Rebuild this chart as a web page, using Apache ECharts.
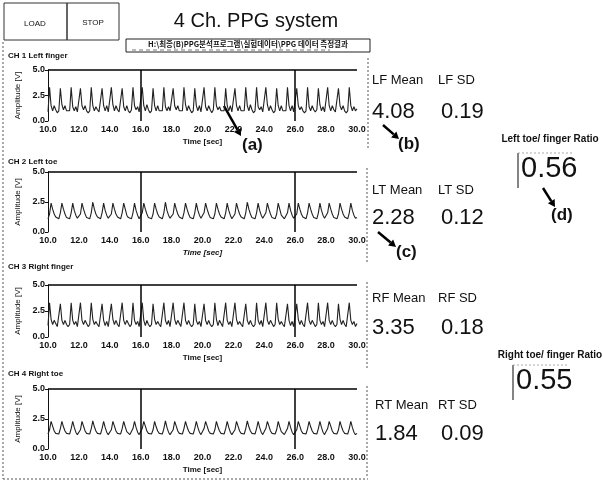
<!DOCTYPE html>
<html>
<head>
<meta charset="utf-8">
<title>4 Ch. PPG system</title>
<script src="https://cdn.jsdelivr.net/npm/echarts@6/dist/echarts.min.js"></script>
<style>
  html, body { margin: 0; padding: 0; background: #fff; }
  #main { width: 603px; height: 482px; }
</style>
</head>
<body>
<div id="main"></div>
<script>
// sampling of the recorded traces (sec)
var startTime = 10.0;
var sampleStep = 0.1;

// CH 1 Left finger (V)
var leftFinger = [
  0.9,3.3,1.5,1.0,1.5,1.1,0.8, 1.0,3.2,1.6,1.1,1.5,1.0,0.9, 1.0,3.3,1.4,1.0,1.4,0.9,
  0.9,3.2,1.5,1.1,1.5,1.0,0.8, 1.0,3.3,1.5,1.0,1.4,1.1,0.9, 1.0,3.2,1.5,1.0,1.5,0.9,
  0.8,3.3,1.6,1.0,1.5,1.1,0.9, 1.0,3.2,1.4,1.0,1.5,1.0,0.8, 1.1,3.3,1.5,1.1,1.4,0.9,
  0.9,3.3,1.5,1.0,1.6,1.1,0.8, 1.0,3.2,1.5,1.0,1.5,1.0,0.9, 1.0,3.3,1.4,1.0,1.4,1.0,
  0.9,3.2,1.5,1.1,1.5,1.0,0.9, 1.0,3.3,1.6,1.0,1.5,1.1,0.8, 1.0,3.2,1.5,1.0,1.5,0.9,
  0.9,3.3,1.4,1.0,1.5,1.1,0.8, 1.1,3.3,1.5,1.1,1.4,1.0,0.9, 1.0,3.2,1.5,1.0,1.5,0.9,
  0.8,3.2,1.5,1.0,1.5,1.0,0.9, 1.0,3.3,1.5,1.0,1.6,1.1,0.8, 1.0,3.3,1.4,1.1,1.4,0.9,
  0.9,3.3,1.6,1.0,1.5,1.1,0.8, 1.0,3.2,1.5,1.0,1.5,1.0,0.9, 1.0,3.3,1.5,1.0,1.5,0.9,
  0.9,3.2,1.5,1.1,1.4,1.0,0.8, 1.0,3.3,1.4,1.0,1.5,1.1,0.9, 1.1,3.2,1.6,1.0,1.4,0.9,
  0.9,3.3,1.5,1.0,1.5,1.1,0.9, 1.0,3.2,1.5,1.1,1.5,1.0,0.8, 1.0,3.3,1.5,1.0,1.4,1.0,
  1.2
];

// CH 2 Left toe (V)
var leftToe = [
  1.1,1.5,2.4,1.9,1.5,1.25,1.1, 1.1,1.6,2.4,1.9,1.5,1.2,1.1, 1.1,1.6,2.4,1.8,1.4,1.15,
  1.1,1.5,2.4,1.9,1.5,1.2,1.1, 1.1,1.6,2.5,1.9,1.5,1.25,1.1, 1.1,1.6,2.4,1.8,1.4,1.15,
  1.1,1.5,2.4,1.9,1.5,1.25,1.1, 1.1,1.6,2.4,1.9,1.4,1.2,1.1, 1.1,1.6,2.4,1.8,1.4,1.1,
  1.1,1.6,2.4,1.9,1.5,1.2,1.1, 1.1,1.5,2.4,1.9,1.5,1.25,1.1, 1.1,1.6,2.5,1.8,1.4,1.15,
  1.1,1.5,2.4,1.9,1.5,1.25,1.1, 1.1,1.6,2.4,1.9,1.5,1.2,1.1, 1.1,1.6,2.4,1.8,1.4,1.15,
  1.1,1.6,2.4,1.9,1.5,1.2,1.1, 1.1,1.5,2.4,1.9,1.5,1.25,1.1, 1.1,1.6,2.4,1.8,1.4,1.1,
  1.1,1.5,2.4,1.9,1.5,1.25,1.1, 1.1,1.6,2.5,1.9,1.5,1.2,1.1, 1.1,1.6,2.4,1.8,1.4,1.15,
  1.1,1.6,2.4,1.9,1.5,1.2,1.1, 1.1,1.5,2.4,1.9,1.4,1.25,1.1, 1.1,1.6,2.4,1.8,1.4,1.15,
  1.1,1.5,2.4,1.9,1.5,1.25,1.1, 1.1,1.6,2.4,1.9,1.5,1.2,1.1, 1.1,1.6,2.4,1.8,1.4,1.15,
  1.1,1.6,2.4,1.9,1.5,1.2,1.1, 1.1,1.5,2.4,1.9,1.5,1.25,1.1, 1.1,1.6,2.4,1.8,1.4,1.15,
  1.2
];

// CH 3 Right finger (V)
var rightFinger = [
  1.1,3.3,1.7,1.2,1.6,1.3,1.0, 1.1,3.2,1.6,1.2,1.6,1.2,1.0, 1.2,3.3,1.6,1.2,1.5,1.0,
  1.1,3.3,1.6,1.2,1.6,1.3,1.0, 1.2,3.3,1.7,1.2,1.5,1.2,1.0, 1.1,3.2,1.6,1.1,1.5,1.0,
  1.1,3.2,1.7,1.2,1.6,1.2,1.0, 1.1,3.3,1.6,1.2,1.6,1.3,1.0, 1.2,3.3,1.6,1.2,1.5,1.0,
  1.1,3.3,1.6,1.1,1.6,1.2,1.0, 1.2,3.2,1.7,1.2,1.5,1.2,1.0, 1.1,3.3,1.6,1.2,1.6,1.0,
  1.1,3.3,1.7,1.2,1.6,1.3,1.0, 1.1,3.3,1.6,1.2,1.6,1.2,1.0, 1.2,3.2,1.6,1.2,1.5,1.0,
  1.1,3.2,1.6,1.2,1.6,1.2,1.0, 1.2,3.3,1.7,1.1,1.6,1.3,1.0, 1.1,3.3,1.6,1.2,1.5,1.0,
  1.1,3.3,1.7,1.2,1.5,1.2,1.0, 1.1,3.2,1.6,1.2,1.6,1.2,1.0, 1.2,3.3,1.6,1.2,1.6,1.0,
  1.1,3.3,1.6,1.2,1.6,1.3,1.0, 1.2,3.3,1.7,1.2,1.5,1.2,1.0, 1.1,3.2,1.6,1.1,1.5,1.0,
  1.1,3.2,1.7,1.2,1.6,1.2,1.0, 1.1,3.3,1.6,1.2,1.6,1.3,1.0, 1.2,3.3,1.6,1.2,1.5,1.0,
  1.1,3.3,1.6,1.2,1.6,1.2,1.0, 1.2,3.2,1.7,1.2,1.6,1.2,1.0, 1.1,3.3,1.6,1.2,1.5,1.0,
  1.3
];

// CH 4 Right toe (V)
var rightToe = [
  1.25,1.6,2.3,1.9,1.5,1.3,1.2, 1.25,1.7,2.3,1.85,1.5,1.3,1.2, 1.25,1.7,2.3,1.8,1.4,1.2,
  1.25,1.6,2.3,1.9,1.5,1.3,1.2, 1.25,1.7,2.35,1.85,1.5,1.3,1.2, 1.25,1.7,2.3,1.8,1.4,1.2,
  1.25,1.6,2.3,1.9,1.5,1.3,1.2, 1.25,1.7,2.3,1.85,1.45,1.3,1.2, 1.25,1.7,2.3,1.8,1.4,1.2,
  1.25,1.7,2.3,1.9,1.5,1.3,1.2, 1.25,1.6,2.3,1.85,1.5,1.3,1.2, 1.25,1.7,2.35,1.8,1.4,1.2,
  1.25,1.6,2.3,1.9,1.5,1.3,1.2, 1.25,1.7,2.3,1.85,1.5,1.3,1.2, 1.25,1.7,2.3,1.8,1.4,1.2,
  1.25,1.7,2.3,1.9,1.5,1.3,1.2, 1.25,1.6,2.3,1.85,1.5,1.3,1.2, 1.25,1.7,2.3,1.8,1.4,1.2,
  1.25,1.6,2.3,1.9,1.5,1.3,1.2, 1.25,1.7,2.35,1.85,1.5,1.3,1.2, 1.25,1.7,2.3,1.8,1.4,1.2,
  1.25,1.7,2.3,1.9,1.5,1.3,1.2, 1.25,1.6,2.3,1.85,1.45,1.3,1.2, 1.25,1.7,2.3,1.8,1.4,1.2,
  1.25,1.6,2.3,1.9,1.5,1.3,1.2, 1.25,1.7,2.3,1.85,1.5,1.3,1.2, 1.25,1.7,2.3,1.8,1.4,1.2,
  1.25,1.7,2.3,1.9,1.5,1.3,1.2, 1.25,1.6,2.3,1.85,1.5,1.3,1.2, 1.25,1.7,2.3,1.8,1.4,1.2,
  1.3
];

var channelNames = ['CH 1 Left finger', 'CH 2 Left toe', 'CH 3 Right finger', 'CH 4 Right toe'];
var channelData = [leftFinger, leftToe, rightFinger, rightToe];
var cursorTimes = [16, 26];

// statistics shown beside each trace
var statLabels = [['LF Mean', 'LF SD'], ['LT Mean', 'LT SD'], ['RF Mean', 'RF SD'], ['RT Mean', 'RT SD']];
var statMeans = ['4.08', '2.28', '3.35', '1.84'];
var statSDs = ['0.19', '0.12', '0.18', '0.09'];
var ratioLabels = ['Left toe/ finger Ratio', 'Right toe/ finger Ratio'];
var ratioValues = ['0.56', '0.55'];

var FONT = '"Liberation Sans", Arial, sans-serif';
var INK = '#111';

function toPoints(vals) {
  var pts = [];
  for (var i = 0; i < vals.length; i++) {
    pts.push([+(startTime + i * sampleStep).toFixed(2), vals[i]]);
  }
  return pts;
}

// plot boxes, one per channel
var plotBoxes = [
  { top: 70, height: 51, titleY: 57, italic: false },
  { top: 172, height: 60, titleY: 163, italic: true },
  { top: 285, height: 52, titleY: 268, italic: false },
  { top: 389, height: 60, titleY: 375, italic: false }
];
var statRows = [
  { labelY: 82, valueY: 112, leftX: 372 },
  { labelY: 192, valueY: 218, leftX: 372 },
  { labelY: 300, valueY: 328, leftX: 372 },
  { labelY: 407, valueY: 434, leftX: 375 }
];

var grids = [], xAxes = [], yAxes = [], series = [], graphics = [];

plotBoxes.forEach(function (b, k) {
  grids.push({ left: 48, top: b.top, width: 309, height: b.height });
  xAxes.push({
    gridIndex: k, type: 'value', min: 10, max: 30, interval: 2,
    axisLine: { show: false }, axisTick: { show: false }, splitLine: { show: false },
    axisLabel: { color: INK, fontSize: 9, fontFamily: FONT, fontWeight: 'bold', margin: 4,
      formatter: function (v) { return v.toFixed(1); } },
    name: 'Time [sec]', nameLocation: 'middle', nameGap: 17,
    nameTextStyle: { color: INK, fontSize: 8, fontFamily: FONT, fontWeight: 'bold',
      fontStyle: b.italic ? 'italic' : 'normal' }
  });
  yAxes.push({
    gridIndex: k, type: 'value', min: 0, max: 5, interval: 2.5,
    axisLine: { show: true, lineStyle: { color: INK, width: 1 } },
    axisTick: { show: true, length: 3, lineStyle: { color: INK } },
    splitLine: { show: false },
    axisLabel: { color: INK, fontSize: 9, fontFamily: FONT, fontWeight: 'bold', margin: 3,
      formatter: function (v) { return v.toFixed(1); } },
    name: 'Amplitude [V]', nameLocation: 'middle', nameGap: 24, nameRotate: 90,
    nameTextStyle: { color: INK, fontSize: 8, fontFamily: FONT }
  });
  series.push({
    type: 'line', xAxisIndex: k, yAxisIndex: k,
    data: toPoints(channelData[k]),
    showSymbol: false, symbol: 'none',
    lineStyle: { color: '#222', width: 1.1 },
    markLine: {
      silent: true, symbol: ['none', 'none'], label: { show: false },
      lineStyle: { color: '#000', width: 1.5, type: 'solid' },
      data: [{ yAxis: 5 }].concat(cursorTimes.map(function (t) { return { xAxis: t }; }))
    }
  });

  // channel title
  graphics.push({ type: 'text', left: 8, top: b.titleY - 5,
    style: { text: channelNames[k], fontSize: 8, fontFamily: FONT, fontWeight: 'bold', fill: INK } });

  // mean / SD indicators
  var r = statRows[k];
  graphics.push({ type: 'text', left: r.leftX, top: r.labelY - 8,
    style: { text: statLabels[k][0], fontSize: 13, fontFamily: FONT, fill: INK } });
  graphics.push({ type: 'text', left: 438, top: r.labelY - 8,
    style: { text: statLabels[k][1], fontSize: 13, fontFamily: FONT, fill: INK } });
  graphics.push({ type: 'text', left: r.leftX, top: r.valueY - 11,
    style: { text: statMeans[k], fontSize: 22, fontFamily: FONT, fill: INK } });
  graphics.push({ type: 'text', left: 441, top: r.valueY - 11,
    style: { text: statSDs[k], fontSize: 22, fontFamily: FONT, fill: INK } });
});

// arrow helper for the (a)-(d) annotations
function arrow(x1, y1, x2, y2) {
  var a = Math.atan2(y2 - y1, x2 - x1), h = 7, w = 4;
  var bx = x2 - h * Math.cos(a), by = y2 - h * Math.sin(a);
  return [
    { type: 'line', shape: { x1: x1, y1: y1, x2: bx, y2: by }, style: { stroke: '#000', lineWidth: 2.5 } },
    { type: 'polygon', shape: { points: [[x2, y2],
        [bx + w * Math.sin(a), by - w * Math.cos(a)], [bx - w * Math.sin(a), by + w * Math.cos(a)]] },
      style: { fill: '#000' } }
  ];
}
function note(txt, x, y) {
  return { type: 'text', left: x, top: y - 10,
    style: { text: txt, fontSize: 17, fontFamily: FONT, fontWeight: 'bold', fill: INK } };
}

graphics = graphics.concat(
  arrow(224, 106, 241, 136), [note('(a)', 242, 147)],
  arrow(383, 125, 399, 139), [note('(b)', 398, 146)],
  arrow(378, 232, 396, 247), [note('(c)', 396, 254)],
  arrow(543, 188, 555, 207), [note('(d)', 551, 217)]
);

// buttons, title, file path box
graphics.push(
  { type: 'rect', shape: { x: 4, y: 3, width: 115, height: 37 }, style: { fill: '#fff', stroke: '#333', lineWidth: 1 } },
  { type: 'line', shape: { x1: 67, y1: 3, x2: 67, y2: 40 }, style: { stroke: '#333', lineWidth: 1.5 } },
  { type: 'text', x: 35, y: 24, style: { text: 'LOAD', fontSize: 8, fontFamily: FONT, fill: INK, align: 'center', verticalAlign: 'middle' } },
  { type: 'text', x: 93, y: 23, style: { text: 'STOP', fontSize: 8, fontFamily: FONT, fill: INK, align: 'center', verticalAlign: 'middle' } },
  { type: 'text', x: 256, y: 21, style: { text: '4 Ch. PPG system', fontSize: 20, fontFamily: FONT, fill: INK, align: 'center', verticalAlign: 'middle' } },
  { type: 'rect', shape: { x: 126, y: 39, width: 244, height: 13 }, style: { fill: '#fff', stroke: '#222', lineWidth: 1 } },
  { type: 'text', x: 248, y: 44, style: { text: 'H:\\최종(B)PPG분석프로그램\\실험데이터\\PPG 데이터 측정결과', fontSize: 7.5,
      fontFamily: '"Noto Sans CJK KR", sans-serif', fontWeight: 'bold', fill: INK, align: 'center', verticalAlign: 'middle' } },
  { type: 'line', shape: { x1: 132, y1: 50, x2: 330, y2: 50 }, style: { stroke: '#777', lineWidth: 1, lineDash: [4, 3] } }
);

// panel borders (dotted in the scan)
graphics.push(
  { type: 'line', shape: { x1: 3, y1: 42, x2: 3, y2: 479 }, style: { stroke: '#555', lineWidth: 1, lineDash: [2, 2] } },
  { type: 'line', shape: { x1: 3, y1: 479, x2: 368, y2: 479 }, style: { stroke: '#555', lineWidth: 1, lineDash: [2, 2] } },
  { type: 'line', shape: { x1: 368, y1: 58, x2: 368, y2: 150 }, style: { stroke: '#555', lineWidth: 1, lineDash: [2, 2] } },
  { type: 'line', shape: { x1: 367, y1: 168, x2: 367, y2: 262 }, style: { stroke: '#555', lineWidth: 1, lineDash: [2, 2] } },
  { type: 'line', shape: { x1: 367, y1: 282, x2: 367, y2: 368 }, style: { stroke: '#555', lineWidth: 1, lineDash: [2, 2] } },
  { type: 'line', shape: { x1: 367, y1: 386, x2: 367, y2: 478 }, style: { stroke: '#555', lineWidth: 1, lineDash: [2, 2] } }
);

// toe / finger ratio indicators
var ratioRows = [
  { labelY: 139, valueY: 169, barX: 518 },
  { labelY: 355, valueY: 381, barX: 513 }
];
ratioRows.forEach(function (r, k) {
  graphics.push(
    { type: 'text', x: 550, y: r.labelY, style: { text: ratioLabels[k], fontSize: 10, fontFamily: FONT, fontWeight: 'bold',
        fill: INK, align: 'center', verticalAlign: 'middle' } },
    { type: 'line', shape: { x1: r.barX, y1: r.valueY - 16, x2: r.barX, y2: r.valueY + 19 }, style: { stroke: '#333', lineWidth: 1.2 } },
    { type: 'line', shape: { x1: r.barX, y1: r.valueY - 16, x2: r.barX + 55, y2: r.valueY - 16 }, style: { stroke: '#aaa', lineWidth: 1, lineDash: [2, 2] } },
    { type: 'text', left: r.barX + 3, top: r.valueY - 15,
      style: { text: ratioValues[k], fontSize: 29, fontFamily: FONT, fill: INK } }
  );
});

var chart = echarts.init(document.getElementById('main'), null, { renderer: 'canvas' });
chart.setOption({
  animation: false,
  backgroundColor: '#fff',
  grid: grids,
  xAxis: xAxes,
  yAxis: yAxes,
  series: series,
  graphic: graphics
});
</script>
</body>
</html>
